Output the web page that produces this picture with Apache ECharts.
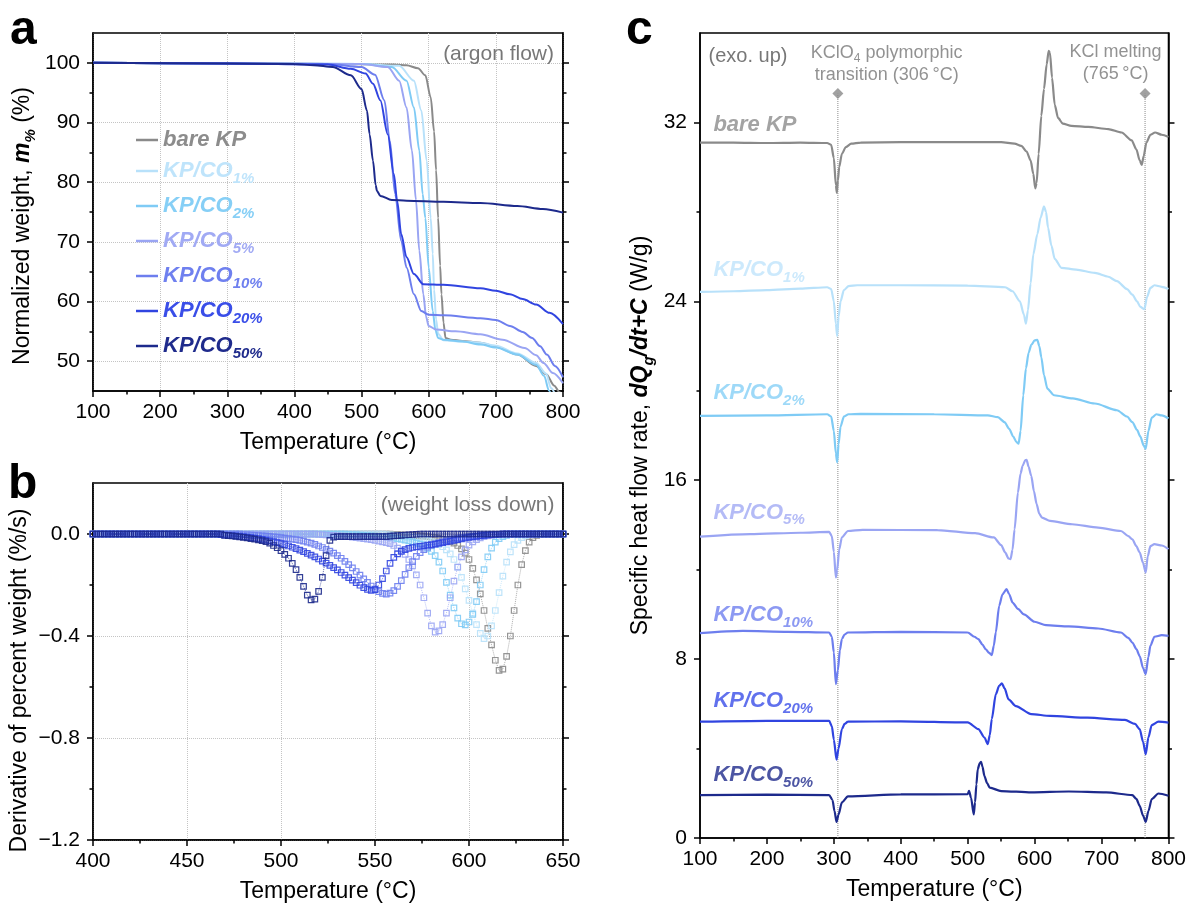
<!DOCTYPE html>
<html><head><meta charset="utf-8">
<script src="https://cdn.jsdelivr.net/npm/echarts@6/dist/echarts.min.js"></script>
<style>html,body{margin:0;padding:0;background:#fff}#c{width:1189px;height:906px}</style>
</head><body><div id="c"></div>
<script>
const FONT = "'Liberation Sans', Arial, Helvetica, sans-serif";
const SAMPLE_NAMES = ['bare KP','KP/CO1%','KP/CO2%','KP/CO5%','KP/CO10%','KP/CO20%','KP/CO50%'];
const SAMPLE_MAIN = ['bare KP','KP/CO','KP/CO','KP/CO','KP/CO','KP/CO','KP/CO'];
const SAMPLE_SUB = ['','1%','2%','5%','10%','20%','50%'];
const LINE_COLORS = ['#8a8a8a','#b8e1fa','#7fcbf5','#9aa5f3','#6d7eee','#3044e0','#1d2a8c'];
const TEXT_COLORS = ['#8c8c8c','#bfe4fb','#86cff6','#a1aaf4','#6f80ef','#3a4ee8','#1f2b8c'];

// ---- panel a: TGA, [temperature °C, weight %]
const TGA_BARE = [[100,100],[200,99.95],[300,99.9],[400,99.85],[500,99.75],[550,99.7],[567,99.6],[584,99.1],[595,97.9],[603,94.2],[608,88.5],[611,82],[614,74],[617,66],[619,61.2],[622,56.5],[625,53.9],[633,53.6],[650,53.4],[677,53.1],[700,52.4],[732,51.1],[760,49.2],[775,47.8],[787,45.9],[795,44.8],[800,44]];
const TGA_CO1 = [[100,100],[300,99.9],[500,99.8],[556,99.5],[578,97.0],[589,92.0],[597,83.6],[603,74],[606,68],[608,62],[611,57],[614,54.6],[622,53.5],[650,53.3],[677,53.1],[700,52.6],[732,51.3],[760,49.7],[775,47.9],[782,45.5],[790,44]];
const TGA_CO2 = [[100,100],[300,99.9],[500,99.8],[545,99.3],[567,97.0],[578,92.5],[586,85.3],[591,78],[595,74],[600,65.7],[606,58.4],[610,55.2],[614,53.9],[622,53.6],[650,53.3],[677,52.8],[700,52.3],[732,51.1],[760,49.4],[772,47.5],[779,45.1],[785,43.5]];
const TGA_CO5 = [[100,100],[300,99.9],[500,99.8],[539,99.3],[556,97.0],[567,92.5],[575,85.3],[581,77],[586,68.5],[592,61.2],[596,57.5],[600,55.9],[611,55.3],[640,55],[677,54.5],[710,53.6],[743,52.2],[760,51],[771,49.7],[785,48],[800,46.3]];
const TGA_CO10 = [[100,100],[300,99.9],[450,99.8],[500,99.3],[520,98],[534,93.7],[542,87],[550,78],[559,70.2],[567,65.7],[578,61.2],[589,58.4],[600,57.8],[622,57.7],[677,57.2],[700,56.9],[721,55.9],[740,54.9],[754,53.9],[766,52.5],[776,51.1],[788,49.2],[800,47.3]];
const TGA_CO20 = [[100,100],[300,99.9],[450,99.7],[484,99],[506,98.2],[517,96.5],[528,93.7],[539,88],[548,81.4],[553,76.9],[559,71.3],[567,67.4],[578,64.6],[592,62.9],[622,62.8],[677,62.2],[700,61.8],[721,61.2],[740,60.4],[760,59.5],[780,58.1],[800,56.2]];
const TGA_CO50 = [[100,100],[300,99.9],[400,99.8],[429,99.6],[457,99.3],[484,97.9],[500,95.6],[508,92],[512,88],[517,83.6],[521,79.5],[523,78.5],[528,77.7],[545,77],[567,76.9],[622,76.7],[677,76.5],[732,76],[770,75.5],[800,74.9]];

// ---- panel b: DTG (%/s), sampled every 2 °C from 400 to 650 °C
const DTG_T0 = 400, DTG_STEP = 2;
const DTG_BARE = [
0,0,0,0,0,0,0,0,0,0, 0,0,0,0,0,0,0,0,0,0, 0,0,0,0,0,0,0,0,0,0, 0,0,0,0,0,0,0,0,0,0,
0,0,0,0,0,0,0,0,0,0, 0,0,0,0,0,0,0,0,0,0, 0,0,0,0,0,0,0,0,0,0, 0,0,0,0,0,0,0,0,0,0,
-0.002,-0.002,-0.003,-0.004,-0.004,-0.005,-0.006,-0.007,-0.008,-0.010,
-0.012,-0.014,-0.017,-0.021,-0.025,-0.030,-0.036,-0.045,-0.058,-0.075,
-0.100,-0.135,-0.180,-0.235,-0.300,-0.370,-0.435,-0.495,-0.535,-0.530,
-0.480,-0.400,-0.300,-0.200,-0.120,-0.065,-0.032,-0.014,-0.005,0,
0,0,0,0,0,0];
const DTG_CO1 = [
0,0,0,0,0,0,0,0,0,0, 0,0,0,0,0,0,0,0,0,0, 0,0,0,0,0,0,0,0,0,0, 0,0,0,0,0,0,0,0,0,0,
0,0,0,0,0,0,0,0,0,0, 0,0,0,0,0,0,0,0,0,0, 0,0,0,0,0,0,0,0,0,0,
0,0,0,0,0,0,0,0,-0.002,-0.003,
-0.004,-0.005,-0.007,-0.008,-0.010,-0.012,-0.014,-0.016,-0.019,-0.024,
-0.030,-0.035,-0.042,-0.050,-0.062,-0.078,-0.100,-0.130,-0.170,-0.215,
-0.260,-0.310,-0.355,-0.390,-0.410,-0.400,-0.360,-0.300,-0.230,-0.165,
-0.110,-0.070,-0.042,-0.025,-0.014,-0.007,-0.003,0,0,0,
0,0,0,0,0,0];
const DTG_CO2 = [
0,0,0,0,0,0,0,0,0,0, 0,0,0,0,0,0,0,0,0,0, 0,0,0,0,0,0,0,0,0,0, 0,0,0,0,0,0,0,0,0,0,
0,0,0,0,0,0,0,0,0,0, 0,0,0,0,0,0,0,0,0,0,
0,0,0,0,0,0,0,0,-0.002,-0.003,
-0.003,-0.004,-0.005,-0.006,-0.007,-0.008,-0.009,-0.010,-0.011,-0.012,
-0.016,-0.018,-0.021,-0.024,-0.027,-0.031,-0.035,-0.040,-0.047,-0.056,
-0.068,-0.085,-0.110,-0.145,-0.190,-0.240,-0.290,-0.330,-0.352,-0.356,
-0.345,-0.315,-0.265,-0.200,-0.140,-0.090,-0.055,-0.032,-0.018,-0.010,
-0.005,-0.002,0,0,0,0,0,0,0,0,
0,0,0,0,0,0];
const DTG_CO5 = [
0,0,0,0,0,0,0,0,0,0, 0,0,0,0,0,0,0,0,0,0, 0,0,0,0,0,0,0,0,0,0, 0,0,0,0,0,0,0,0,0,0,
0,0,0,0,0,0,0,0,0,0, 0,0,0,0,0,0,0,0,0,0,
-0.002,-0.003,-0.004,-0.005,-0.006,-0.007,-0.008,-0.009,-0.010,-0.012,
-0.014,-0.016,-0.018,-0.020,-0.022,-0.025,-0.028,-0.031,-0.034,-0.038,
-0.045,-0.055,-0.065,-0.080,-0.100,-0.125,-0.160,-0.200,-0.250,-0.310,
-0.360,-0.385,-0.380,-0.355,-0.310,-0.250,-0.185,-0.130,-0.090,-0.062,
-0.044,-0.031,-0.022,-0.015,-0.010,-0.007,-0.005,-0.003,-0.002,0,
0,0,0,0,0,0,0,0,0,0,
0,0,0,0,0,0];
const DTG_CO10 = [
0,0,0,0,0,0,0,0,0,0, 0,0,0,0,0,0,0,0,0,0, 0,0,0,0,0,0,0,0,0,0, 0,0,0,0,0,0,0,0,0,0,
-0.003,-0.003,-0.004,-0.005,-0.006,-0.007,-0.008,-0.009,-0.011,-0.012,
-0.014,-0.016,-0.018,-0.020,-0.022,-0.025,-0.028,-0.032,-0.036,-0.041,
-0.047,-0.053,-0.060,-0.067,-0.075,-0.085,-0.095,-0.107,-0.120,-0.133,
-0.147,-0.161,-0.176,-0.190,-0.204,-0.216,-0.226,-0.233,-0.236,-0.232,
-0.222,-0.205,-0.183,-0.158,-0.132,-0.108,-0.088,-0.073,-0.061,-0.052,
-0.045,-0.039,-0.034,-0.030,-0.026,-0.022,-0.019,-0.016,-0.014,-0.012,
-0.010,-0.008,-0.007,-0.006,-0.005,-0.004,-0.003,-0.002,-0.001,0,
0,0,0,0,0,0,0,0,0,0,
0,0,0,0,0,0];
const DTG_CO20 = [
0,0,0,0,0,0,0,0,0,0, 0,0,0,0,0,0,0,0,0,0, 0,0,0,0,0,0,0,0,0,0,
0,0,0,0,-0.003,-0.004,-0.005,-0.006,-0.007,-0.008,
-0.010,-0.012,-0.014,-0.016,-0.018,-0.021,-0.024,-0.027,-0.030,-0.034,
-0.038,-0.042,-0.047,-0.052,-0.057,-0.063,-0.069,-0.076,-0.083,-0.090,
-0.098,-0.106,-0.114,-0.123,-0.132,-0.141,-0.151,-0.161,-0.171,-0.181,
-0.191,-0.201,-0.210,-0.217,-0.221,-0.218,-0.200,-0.175,-0.145,-0.115,
-0.092,-0.078,-0.068,-0.061,-0.056,-0.053,-0.050,-0.048,-0.046,-0.044,
-0.042,-0.040,-0.037,-0.034,-0.031,-0.028,-0.025,-0.022,-0.019,-0.016,
-0.013,-0.011,-0.009,-0.007,-0.005,-0.004,-0.003,-0.002,-0.001,0,
0,0,0,0,0,0,0,0,0,0,
0,0,0,0,0,0];
const DTG_CO50 = [
0,0,0,0,0,0,0,0,0,0, 0,0,0,0,0,0,0,0,0,0, 0,0,0,0,0,0,0,0,0,0,
0,0,0,0,0,-0.005,-0.006,-0.007,-0.009,-0.011,
-0.013,-0.015,-0.018,-0.020,-0.023,-0.026,-0.030,-0.036,-0.045,-0.054,
-0.065,-0.080,-0.095,-0.115,-0.140,-0.170,-0.205,-0.240,-0.258,-0.255,
-0.225,-0.170,-0.085,-0.025,-0.012,-0.010,-0.010,-0.010,-0.010,-0.010,
-0.010,-0.010,-0.010,-0.010,-0.010,-0.010,-0.010,-0.010,-0.010,-0.008,
-0.007,-0.006,-0.005,-0.004,-0.003,-0.002,-0.001,0,0,0,
0,0,0,0,0,0,0,0,0,0, 0,0,0,0,0,0,0,0,0,0, 0,0,0,0,0,0,0,0,0,0,
0,0,0,0,0,0];

// ---- panel c: DSC, [temperature °C, heat flow + offset, W/g]
const DSC_BARE = [[100,31.1],[150,31.1],[200,31.08],[250,31.1],[290,31.08],[296,31.0],[300,30.4],[303,29.2],[304.5,28.85],[306,29.4],[308,30.0],[312,30.6],[318,30.9],[326,31.05],[340,31.1],[400,31.12],[500,31.12],[550,31.12],[570,31.05],[580,30.95],[588,30.7],[594,30.3],[598,29.7],[601,29.05],[603,29.3],[606,30.6],[610,32.3],[614,33.5],[618,34.6],[621,35.2],[623,35.1],[626,34.0],[630,32.8],[635,32.2],[642,31.95],[655,31.85],[680,31.8],[710,31.7],[730,31.55],[745,31.2],[752,30.8],[757,30.3],[760,30.1],[763,30.5],[767,31.1],[773,31.45],[780,31.55],[790,31.45],[800,31.35]];
const DSC_CO1 = [[100,24.42],[150,24.45],[200,24.5],[250,24.57],[290,24.63],[296,24.55],[300,24.0],[303,23.0],[305,22.45],[307,23.3],[310,24.0],[315,24.5],[322,24.68],[335,24.72],[400,24.72],[500,24.7],[556,24.63],[567,24.45],[578,24.0],[584,23.4],[587,23.0],[590,23.6],[594,24.8],[598,26.1],[604,27.0],[609,27.75],[614,28.25],[617,28.0],[620,27.3],[625,26.5],[630,25.9],[640,25.5],[662,25.42],[690,25.27],[710,25.1],[723,24.9],[738,24.55],[746,24.3],[753,24.0],[758,23.75],[764,23.65],[768,24.2],[773,24.6],[779,24.72],[790,24.65],[800,24.55]];
const DSC_CO2 = [[100,18.88],[200,18.9],[290,18.95],[296,18.85],[300,18.2],[303,17.2],[305,16.8],[307,17.6],[310,18.4],[315,18.85],[322,18.95],[340,18.97],[450,18.95],[530,18.9],[545,18.82],[555,18.6],[562,18.3],[568,17.95],[573,17.7],[576,17.63],[579,18.2],[583,19.8],[587,21.0],[591,21.7],[595,22.05],[600,22.25],[604,22.28],[607,22.0],[610,21.5],[614,20.7],[619,20.1],[629,19.8],[657,19.66],[690,19.43],[723,19.13],[738,18.85],[746,18.6],[753,18.25],[758,17.95],[763,17.55],[766,17.4],[770,18.2],[775,18.8],[782,18.95],[790,18.9],[800,18.76]];
const DSC_CO5 = [[100,13.48],[175,13.59],[250,13.65],[293,13.69],[297,13.5],[300,12.8],[303,11.65],[305,12.0],[308,12.9],[312,13.45],[321,13.73],[343,13.78],[455,13.77],[511,13.63],[539,13.44],[550,13.1],[556,12.77],[561,12.5],[564,12.47],[567,12.9],[570,13.8],[575,15.45],[579,16.3],[582,16.64],[586,16.9],[588,16.91],[591,16.6],[595,16.19],[599,15.5],[603,14.93],[607,14.5],[611,14.33],[623,14.18],[656,14.03],[695,13.88],[729,13.73],[740,13.5],[746,13.36],[752,13.05],[757,12.77],[762,12.3],[766,11.87],[769,12.6],[773,13.05],[779,13.14],[790,13.08],[800,12.92]];
const DSC_CO10 = [[100,9.16],[164,9.26],[231,9.22],[293,9.19],[297,9.0],[300,8.3],[303,6.88],[306,7.5],[309,8.4],[312,8.9],[316,9.1],[321,9.19],[400,9.22],[500,9.19],[510,9.0],[516,8.89],[522,8.65],[527,8.44],[532,8.28],[536,8.18],[539,8.6],[542,9.2],[547,10.38],[552,10.9],[558,11.13],[562,10.9],[567,10.53],[575,10.25],[584,10.0],[600,9.67],[617,9.52],[651,9.46],[695,9.37],[729,9.19],[740,8.95],[746,8.74],[752,8.45],[757,8.14],[762,7.6],[766,7.33],[770,8.1],[773,8.6],[779,9.0],[790,9.07],[800,9.04]];
const DSC_CO20 = [[100,5.2],[200,5.24],[293,5.24],[297,5.0],[300,4.4],[304,3.5],[307,4.0],[312,4.87],[316,5.1],[321,5.2],[400,5.22],[500,5.17],[516,4.87],[525,4.49],[530,4.2],[533,4.6],[536,5.32],[542,6.43],[547,6.8],[551,6.92],[555,6.7],[561,6.2],[572,5.9],[595,5.54],[623,5.46],[679,5.38],[735,5.28],[750,5.1],[757,4.87],[762,4.3],[766,3.75],[770,4.5],[775,5.05],[785,5.2],[800,5.16]];
const DSC_CO50 = [[100,1.92],[200,1.94],[293,1.92],[298,1.7],[301,1.2],[304,0.72],[307,1.05],[312,1.59],[321,1.86],[400,1.95],[500,1.96],[502,2.11],[505,1.8],[509,1.05],[511,1.6],[513,2.4],[515,3.08],[518,3.35],[520,3.4],[522,3.2],[525,2.77],[529,2.45],[533,2.25],[550,2.1],[595,2.04],[651,2.08],[707,2.04],[746,1.92],[752,1.75],[757,1.44],[762,1.0],[766,0.72],[770,1.2],[775,1.74],[785,1.99],[800,1.89]];

const TRANSITION_T = [306, 765];

// tick values
const TGA_Y_MAJOR = [50,60,70,80,90,100], TGA_Y_MINOR = [55,65,75,85,95];
const DTG_Y_MAJOR = [-1.2,-0.8,-0.4,0], DTG_Y_MINOR = [-1.0,-0.6,-0.2];
const DSC_Y_MAJOR = [0,8,16,24,32], DSC_Y_MINOR = [4,12,20,28];

const TGA = [TGA_BARE,TGA_CO1,TGA_CO2,TGA_CO5,TGA_CO10,TGA_CO20,TGA_CO50];
const DTG = [DTG_BARE,DTG_CO1,DTG_CO2,DTG_CO5,DTG_CO10,DTG_CO20,DTG_CO50];
const DSC = [DSC_BARE,DSC_CO1,DSC_CO2,DSC_CO5,DSC_CO10,DSC_CO20,DSC_CO50];

const AX = {color:'#000', width:1.5};
const sampleRich = {
  m:{fontFamily:FONT, fontSize:22, fontWeight:'bold', fontStyle:'italic', lineHeight:30},
  s:{fontFamily:FONT, fontSize:15, fontWeight:'bold', fontStyle:'italic', verticalAlign:'bottom', lineHeight:15}
};
function sampleLabel(i){ return SAMPLE_SUB[i] ? '{m|'+SAMPLE_MAIN[i]+'}{s|'+SAMPLE_SUB[i]+'}' : '{m|'+SAMPLE_MAIN[i]+'}'; }
const nameRich = {
  n:{fontFamily:FONT, fontSize:23, color:'#000', lineHeight:30},
  bi:{fontFamily:FONT, fontSize:23, color:'#000', fontWeight:'bold', fontStyle:'italic', lineHeight:30},
  sb:{fontFamily:FONT, fontSize:15, color:'#000', fontWeight:'bold', fontStyle:'italic', verticalAlign:'bottom', lineHeight:16}
};

function xAxis(g, min, max, interval, grid){
  return {type:'value', gridIndex:g, min, max, interval, position:'bottom',
    name:'Temperature (°C)', nameLocation:'middle', nameGap:40,
    nameTextStyle:{fontFamily:FONT, fontSize:23, color:'#000'},
    axisLine:{show:true, onZero:false, lineStyle:AX},
    axisTick:{show:true, length:6, lineStyle:AX},
    minorTick:{show:true, splitNumber:2, length:3.5, lineStyle:AX},
    axisLabel:{fontFamily:FONT, fontSize:21, color:'#000', margin:11},
    splitLine:{show:grid, lineStyle:{type:'dotted', color:'#c4c4c4', width:1}}};
}
function yAxes(g, min, max, major, minor, fmt, name, gap, pad, grid){
  const base = {type:'value', gridIndex:g, min, max};
  const tk = {color:'#000', width:1.5};
  return [
    Object.assign({}, base, {position:'left', name, nameLocation:'middle', nameGap:gap,
      nameTextStyle:{fontFamily:FONT, fontSize:23, color:'#000', rich:nameRich, padding:pad},
      axisLine:{show:true, onZero:false, lineStyle:AX},
      axisTick:{show:true, length:6, customValues:major, lineStyle:tk},
      axisLabel:{show:true, customValues:major, formatter:fmt, fontFamily:FONT, fontSize:21, color:'#000', margin:13},
      splitLine:{show:grid, lineStyle:{type:'dotted', color:'#c4c4c4', width:1}}}),
    Object.assign({}, base, {position:'left', axisLine:{show:false, onZero:false},
      axisTick:{show:true, length:3.5, customValues:minor, lineStyle:tk}, axisLabel:{show:false}, splitLine:{show:false}}),
    Object.assign({}, base, {position:'right', axisLine:{show:true, onZero:false, lineStyle:AX},
      axisTick:{show:true, length:6, customValues:major, lineStyle:tk}, axisLabel:{show:false}, splitLine:{show:false}}),
    Object.assign({}, base, {position:'right', axisLine:{show:false, onZero:false},
      axisTick:{show:true, length:3.5, customValues:minor, lineStyle:tk}, axisLabel:{show:false}, splitLine:{show:false}})
  ];
}
const fmtInt = v => String(Math.round(v));
const fmtDtg = v => (v < -1e-9 ? '\u2212' : '') + Math.abs(v).toFixed(1);

const series = [];
TGA.forEach((d,i) => series.push({type:'line', name:SAMPLE_NAMES[i], xAxisIndex:0, yAxisIndex:0, data:d,
  symbol:'none', showSymbol:false, smooth:0.3, smoothMonotone:'x', clip:true,
  lineStyle:{width:2, color:LINE_COLORS[i]}, itemStyle:{color:LINE_COLORS[i]}, z:3+i}));
DTG.forEach((vals,i) => series.push({type:'line', name:'dtg '+SAMPLE_NAMES[i], xAxisIndex:1, yAxisIndex:4,
  data: vals.map((v,k) => [DTG_T0 + k*DTG_STEP, v]),
  symbol:'rect', symbolSize:5.5, showSymbol:true, showAllSymbol:true, clip:true,
  itemStyle:{color:'rgba(255,255,255,0)', borderColor:LINE_COLORS[i], borderWidth:1.2, opacity:0.9},
  lineStyle:{width:1, type:'dotted', color:LINE_COLORS[i], opacity:0.7}, z:3+i}));
DSC.forEach((d,i) => series.push({type:'line', name:'dsc '+SAMPLE_NAMES[i], xAxisIndex:2, yAxisIndex:8, data:d,
  symbol:'none', showSymbol:false, smooth:0.25, smoothMonotone:'x', clip:true,
  lineStyle:{width:2.2, color:LINE_COLORS[i]}, itemStyle:{color:LINE_COLORS[i]}, z:3+i}));

// transition markers in panel c
TRANSITION_T.forEach(t => series.push({type:'line', name:'tr'+t, xAxisIndex:2, yAxisIndex:8, data:[[t,0],[t,33.3]],
  symbol:'none', silent:true, lineStyle:{width:1, type:'dotted', color:'#8a8a8a'}, z:2}));
series.push({type:'scatter', name:'diamonds', xAxisIndex:2, yAxisIndex:8, data:TRANSITION_T.map(t => [t,33.3]),
  symbol:'diamond', symbolSize:11, itemStyle:{color:'#8a8a8a'}, silent:true, z:5});

// sample labels in panel c
const DSC_LABEL_V = [31.9, 25.4, 19.9, 14.55, 9.96, 6.13, 2.8];
series.push({type:'scatter', name:'dsc labels', xAxisIndex:2, yAxisIndex:8, symbolSize:0, silent:true, z:20,
  data: SAMPLE_NAMES.map((n,i) => ({value:[120, DSC_LABEL_V[i]], label:{color:TEXT_COLORS[i], formatter:sampleLabel(i)}})),
  label:{show:true, position:'right', distance:0, fontFamily:FONT, rich:sampleRich}});

// annotations
const annRich = {
  t:{fontFamily:FONT, fontSize:18, color:'#777', align:'center', lineHeight:22},
  s4:{fontFamily:FONT, fontSize:12, color:'#777', align:'center', verticalAlign:'bottom', lineHeight:12}
};
series.push({type:'scatter', name:'ann a', xAxisIndex:0, yAxisIndex:0, symbolSize:0, silent:true, z:20,
  data:[[786.6,101.4]], label:{show:true, position:'left', distance:0, formatter:'(argon flow)', fontFamily:FONT, fontSize:21, color:'#555'}});
series.push({type:'scatter', name:'ann b', xAxisIndex:1, yAxisIndex:4, symbolSize:0, silent:true, z:20,
  data:[[645.5,0.1145]], label:{show:true, position:'left', distance:0, formatter:'(weight loss down)', fontFamily:FONT, fontSize:21, color:'#555'}});
series.push({type:'scatter', name:'ann c', xAxisIndex:2, yAxisIndex:8, symbolSize:0, silent:true, z:20,
  data:[
    {value:[112.8,34.95], label:{position:'right', formatter:'(exo. up)', fontSize:20, color:'#555'}},
    {value:[379,34.6], label:{position:'inside', formatter:'{t|KClO}{s4|4}{t| polymorphic}\n{t|transition (306\u2009°C)}', rich:annRich}},
    {value:[721,34.66], label:{position:'inside', formatter:'{t|KCl melting}\n{t|(765\u2009°C)}', rich:annRich}}
  ],
  label:{show:true, distance:0, fontFamily:FONT}});

const option = {
  animation:false,
  backgroundColor:'#fff',
  textStyle:{fontFamily:FONT},
  grid:[
    {left:93, top:33, width:470, height:358, show:true, borderColor:'#000', borderWidth:1.5, backgroundColor:'rgba(0,0,0,0)'},
    {left:93, top:483, width:470, height:357, show:true, borderColor:'#000', borderWidth:1.5, backgroundColor:'rgba(0,0,0,0)'},
    {left:700, top:33, width:469, height:806, show:true, borderColor:'#000', borderWidth:1.5, backgroundColor:'rgba(0,0,0,0)'}
  ],
  xAxis:[ xAxis(0,100,800,100,true), xAxis(1,400,650,50,true), xAxis(2,100,800,100,false) ],
  yAxis:[].concat(
    yAxes(0,45,105,TGA_Y_MAJOR,TGA_Y_MINOR,fmtInt,'{n|Normalized weight, }{bi|m}{sb|%}{n| (%)}',55,[0,28,0,0],true),
    yAxes(1,-1.2,0.2,DTG_Y_MAJOR,DTG_Y_MINOR,fmtDtg,'{n|Derivative of percent weight (%/s)}',58,[0,38,0,0],true),
    yAxes(2,0,36,DSC_Y_MAJOR,DSC_Y_MINOR,fmtInt,'{n|Specific heat flow rate, }{bi|dQ}{sb|g}{bi|/dt+C}{n| (W/g)}',44,[0,0,0,0],false)
  ),
  legend:{show:true, orient:'vertical', left:131, top:124, itemGap:9, itemWidth:22, itemHeight:2.5, icon:'rect',
    selectedMode:false,
    data:SAMPLE_NAMES.map((n,i) => ({name:n, textStyle:{color:TEXT_COLORS[i]}})),
    formatter: name => sampleLabel(SAMPLE_NAMES.indexOf(name)),
    textStyle:{fontFamily:FONT, rich:sampleRich}},
  graphic:[
    {type:'text', left:10, top:7, style:{text:'a', font:"bold 48px 'Liberation Sans', Arial, sans-serif", fill:'#000'}},
    {type:'text', left:8, top:461, style:{text:'b', font:"bold 48px 'Liberation Sans', Arial, sans-serif", fill:'#000'}},
    {type:'text', left:626, top:7, style:{text:'c', font:"bold 48px 'Liberation Sans', Arial, sans-serif", fill:'#000'}}
  ],
  series
};
const chart = echarts.init(document.getElementById('c'), null, {renderer:'canvas'});
chart.setOption(option);
</script>
</body></html>
